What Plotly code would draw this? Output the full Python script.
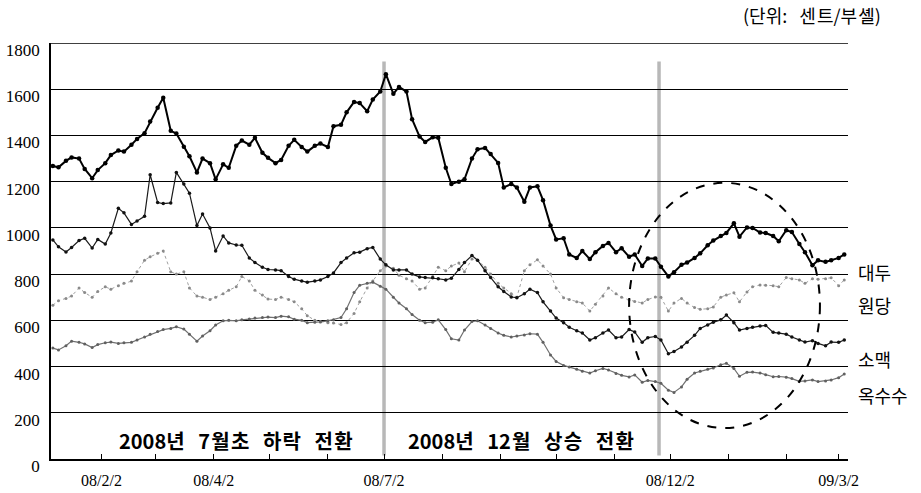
import plotly.graph_objects as go

# ---- dates (Mondays and Thursdays) ----
month_days = [
    ("2008-01", [7, 10, 14, 17, 21, 24, 28, 31]),
    ("2008-02", [4, 7, 11, 14, 18, 21, 25, 28]),
    ("2008-03", [3, 6, 10, 13, 17, 20, 24, 27, 31]),
    ("2008-04", [3, 7, 10, 14, 17, 21, 24, 28]),
    ("2008-05", [1, 5, 8, 12, 15, 19, 22, 26, 29]),
    ("2008-06", [2, 5, 9, 12, 16, 19, 23, 26, 30]),
    ("2008-07", [3, 7, 10, 14, 17, 21, 24, 28, 31]),
    ("2008-08", [4, 7, 11, 14, 18, 21, 25, 28]),
    ("2008-09", [1, 4, 8, 11, 15, 18, 22, 25, 29]),
    ("2008-10", [2, 6, 9, 13, 16, 20, 23, 27, 30]),
    ("2008-11", [3, 6, 10, 13, 17, 20, 24, 27]),
    ("2008-12", [1, 4, 8, 11, 15, 18, 22, 25, 29]),
    ("2009-01", [1, 5, 8, 12, 15, 19, 22, 26, 29]),
    ("2009-02", [2, 5, 9, 12, 16, 19, 23, 26]),
    ("2009-03", [2, 5]),
]
dates = [f"{ym}-{d:02d}" for ym, days in month_days for d in days]

# ---- series (cents / bushel) ----
soybean = [
    1268, 1262, 1290, 1305, 1300, 1255, 1215, 1250, 1280, 1315, 1335, 1330, 1360, 1385, 1410, 1460,
    1520, 1563, 1420, 1408, 1351, 1310, 1240, 1300, 1280, 1210, 1275, 1260, 1355, 1378, 1360, 1390,
    1325, 1303, 1280, 1294, 1355, 1381, 1350, 1330, 1355, 1365, 1350, 1440, 1446, 1500, 1545, 1540,
    1505, 1555, 1590, 1665, 1580, 1610, 1590, 1470, 1395, 1372, 1392, 1390, 1260, 1190, 1200, 1210,
    1300, 1340, 1346, 1320, 1281, 1175, 1190, 1175, 1113, 1175, 1180, 1120, 1010, 950, 955, 885,
    870, 900, 865, 895, 922, 935, 895, 912, 875, 885, 835, 868, 868, 832, 790, 808,
    840, 850, 870, 890, 925, 945, 965, 978, 1020, 962, 1002, 1000, 980, 978, 965, 942,
    990, 982, 930, 895, 838, 860, 853, 860, 870, 885,
]
wheat = [
    948, 918, 896, 915, 945, 955, 913, 950, 930, 978, 1085, 1065, 1015, 1030, 1050, 1230,
    1110, 1105, 1108, 1240, 1190, 1150, 1010, 1060, 1000, 900, 965, 935, 926, 925, 870, 850,
    830, 820, 818, 815, 790, 778, 770, 765, 770, 775, 790, 805, 850, 870, 892, 895,
    910, 915, 865, 840, 818, 818, 818, 800, 788, 785, 784, 780, 775, 782, 820, 850,
    880, 860, 815, 785, 745, 725, 701, 698, 715, 735, 720, 680, 640, 610, 590, 570,
    555, 545, 515, 525, 545, 558, 525, 528, 560, 550, 505, 525, 530, 515, 455, 465,
    485, 505, 535, 565, 580, 592, 602, 623, 590, 558, 565, 570, 575, 578, 548, 545,
    540, 528, 515, 506, 512, 500, 490, 506, 505, 515,
]
sugar = [
    665, 685, 695, 705, 740, 720, 700, 725, 745, 735, 750, 760, 770, 810, 860, 875,
    890, 900, 810, 800, 810, 740, 705, 700, 690, 700, 715, 730, 745, 790, 770, 730,
    710, 692, 690, 700, 690, 680, 650, 620, 600, 595, 590, 588, 582, 590, 630, 680,
    740, 770, 815, 835, 825, 795, 780, 770, 735, 740, 790, 830, 815, 835, 848, 810,
    865, 860, 830, 800, 760, 740, 715, 700, 815, 840, 862, 835, 800, 740, 698, 690,
    680, 675, 640, 670, 705, 740, 715, 700, 688, 682, 675, 690, 701, 700, 640, 675,
    695, 675, 655, 648, 650, 658, 700, 710, 719, 680, 723, 745, 753, 752, 750, 745,
    785, 780, 775, 760, 780, 778, 780, 784, 750, 775,
]
corn = [
    480, 472, 490, 510, 505, 498, 482, 495, 503, 506, 500, 503, 505, 515, 528, 540,
    552, 560, 565, 572, 562, 540, 510, 532, 555, 580, 598, 600, 598, 602, 606, 610,
    612, 614, 612, 618, 615, 605, 600, 590, 592, 593, 598, 603, 612, 650, 720, 752,
    760, 765, 748, 735, 700, 675, 650, 625, 600, 590, 592, 602, 560, 520, 515, 558,
    595, 598, 580, 565, 545, 535, 528, 532, 537, 542, 540, 505, 450, 422, 405, 398,
    388, 380, 372, 382, 392, 385, 370, 362, 355, 364, 332, 340, 335, 328, 298, 288,
    312, 345, 372, 380, 388, 394, 408, 414, 392, 358, 375, 376, 372, 365, 356, 357,
    354, 348, 336, 338, 342, 335, 338, 342, 352, 368,
]

series_names = ["대두", "원당", "소맥", "옥수수"]

# ---- axis ticks ----
tick_dates = ["2008-02-02", "2008-03-02", "2008-04-02", "2008-05-02", "2008-06-02",
              "2008-07-02", "2008-08-02", "2008-09-02", "2008-10-02", "2008-11-02",
              "2008-12-02", "2009-01-02", "2009-02-02", "2009-03-02"]
tick_texts = ["08/2/2", "", "08/4/2", "", "", "08/7/2", "", "", "", "",
              "08/12/2", "", "", "09/3/2"]
y_ticks = [0, 200, 400, 600, 800, 1000, 1200, 1400, 1600, 1800]

fig = go.Figure()
fig.add_trace(go.Scatter(x=dates, y=sugar, name=series_names[1], mode="lines+markers",
                         line=dict(color="#a0a0a0", width=1, dash="dot"),
                         marker=dict(size=3, color="#8a8a8a")))
fig.add_trace(go.Scatter(x=dates, y=corn, name=series_names[3], mode="lines+markers",
                         line=dict(color="#707070", width=1.2),
                         marker=dict(size=3, color="#606060")))
fig.add_trace(go.Scatter(x=dates, y=wheat, name=series_names[2], mode="lines+markers",
                         line=dict(color="#1a1a1a", width=1.2),
                         marker=dict(size=3.5, color="#111111")))
fig.add_trace(go.Scatter(x=dates, y=soybean, name=series_names[0], mode="lines+markers",
                         line=dict(color="black", width=2),
                         marker=dict(size=4.5, color="black")))

# top border line at the 1800 level
fig.add_shape(type="line", xref="paper", yref="y", x0=0, x1=1, y0=1800, y1=1800,
              line=dict(color="black", width=1.5), layer="above")

# gray vertical turning-point lines
for d in ["2008-07-02", "2008-11-26"]:
    fig.add_shape(type="line", xref="x", yref="y", x0=d, x1=d, y0=15, y1=1720,
                  line=dict(color="#b8b8b8", width=3.5), layer="below")

# dashed ellipse
fig.add_shape(type="circle", xref="x", yref="y", x0="2008-11-10", x1="2009-02-20",
              y0=134, y1=1195, line=dict(color="black", width=2, dash="dash"), layer="above")

serif = "Liberation Serif"
kr = "Noto Sans CJK KR"
sp = "\u00a0\u00a0\u00a0"
hs = "\u200a"

# right-side series labels
label_y = [809, 667, 433, 277]
for name, yv in zip(series_names, label_y):
    fig.add_annotation(x=1, xref="paper", y=yv, yref="y", text=name, showarrow=False,
                       xanchor="left", yanchor="middle", xshift=8,
                       font=dict(family=kr, size=18, color="black"))

# bottom texts
t1 = f"<b>2008년{sp}7{hs}월{hs}초{sp}하{hs}락{sp}전{hs}환</b>"
t2 = f"<b>2008년{sp}12{hs}월{sp}상{hs}승{sp}전{hs}환</b>"
fig.add_annotation(x="2008-04-14", y=82, xref="x", yref="y", text=t1,
                   showarrow=False, font=dict(family=kr, size=20, color="black"))
fig.add_annotation(x="2008-09-13", y=82, xref="x", yref="y", text=t2,
                   showarrow=False, font=dict(family=kr, size=20, color="black"))

# unit
fig.add_annotation(x=0.955, y=1.067, xref="paper", yref="paper",
                   text=f"(단위:{sp}센{hs}트/부{hs}셸)", showarrow=False,
                   xanchor="center", yanchor="middle",
                   font=dict(family=kr, size=18, color="black"))

fig.update_layout(
    width=921, height=493,
    margin=dict(l=51, r=73, t=43, b=34, autoexpand=False),
    paper_bgcolor="white", plot_bgcolor="white",
    showlegend=False,
    xaxis=dict(type="date", range=["2008-01-06", "2009-03-07"], automargin=False,
               tickmode="array", tickvals=tick_dates, ticktext=tick_texts,
               ticks="inside", ticklen=5, tickwidth=1, tickcolor="black",
               showline=True, linecolor="black", linewidth=1.5,
               showgrid=False, zeroline=False, ticklabelstandoff=6,
               tickfont=dict(family=serif, size=16, color="black")),
    yaxis=dict(range=[0, 1800], tickmode="array", tickvals=y_ticks, automargin=False,
               showline=True, linecolor="black", linewidth=1.5,
               showgrid=True, gridcolor="black", gridwidth=1.3,
               zeroline=False, ticks="", ticklabelshift=7, ticklabelstandoff=6,
               tickfont=dict(family=serif, size=17, color="black")),
)

fig.write_html("out.html", config={"displayModeBar": False},
               post_script="document.body.style.margin='0';document.body.style.overflow='hidden';")
